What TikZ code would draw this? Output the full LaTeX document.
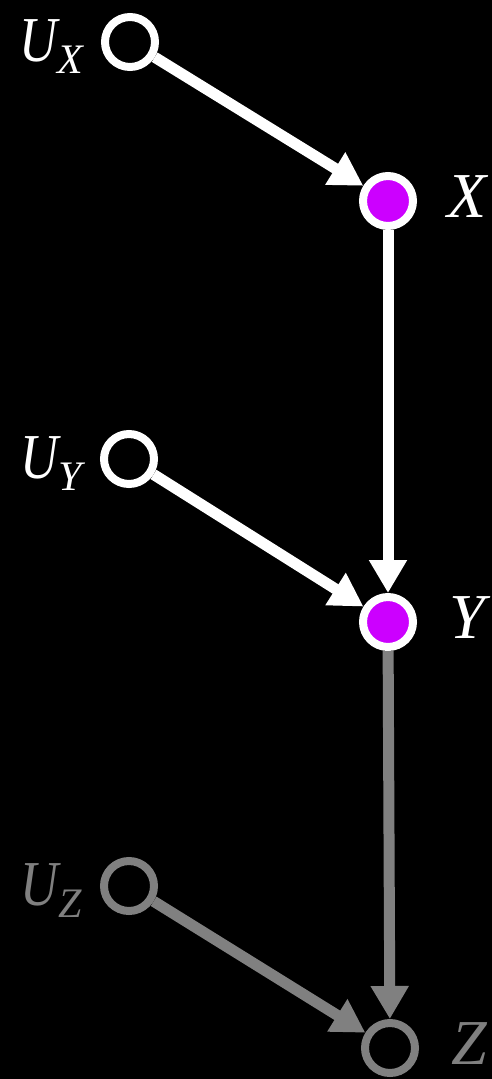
\documentclass[tikz,border=0pt]{standalone}
\usepackage{fontspec}
\setmainfont{Liberation Serif}
\usetikzlibrary{arrows.meta,positioning}
\definecolor{obsfill}{HTML}{CC00FF}
\definecolor{fadegray}{HTML}{808080}
\newcommand\lowidx[1]{\raisebox{-12pt}{\fontsize{42}{44}\selectfont #1}}
\newcommand\noiseU{\scalebox{0.82}[1]{U}}

\begin{document}
\begin{tikzpicture}[x=1pt, y=-1pt,
  var/.style={circle, draw=white, line width=8pt, minimum size=50pt, inner sep=0pt},
  obs/.style={var, fill=obsfill},
  lbl/.style={inner sep=0pt, font=\fontsize{64}{70}\selectfont\itshape, text=white},
  arrow/.style={-{Triangle[length=33pt, width=36pt]}, line width=11pt, draw=white}
]
\fill[black] (0,0) rectangle (492,1079);
% exogenous noise terms and variables
\node[var] (ux) at (130,42) {};
\node[obs] (x) at (388,201) {};
\node[var] (uy) at (129,459) {};
\node[obs] (y) at (388,622) {};
\node[var, draw=fadegray] (uz) at (129,886) {};
\node[var, draw=fadegray] (z) at (390,1048) {};
% labels
\node[lbl, left=18pt of ux, yshift=-5pt] (ux-l) {\noiseU\lowidx{X}};
\node[lbl, right=30pt of x, yshift=4pt] (x-l) {X};
\node[lbl, left=18pt of uy, yshift=-5pt] (uy-l) {\noiseU\lowidx{Y}};
\node[lbl, right=32pt of y, yshift=4pt] (y-l) {Y};
\node[lbl, text=fadegray, left=18pt of uz, yshift=-5pt] (uz-l) {\noiseU\lowidx{Z}};
\node[lbl, text=fadegray, right=32pt of z, yshift=4pt] (z-l) {Z};
% edges
\draw[arrow] (ux) -- (x);
\draw[arrow] (x) -- (y);
\draw[arrow] (uy) -- (y);
\draw[arrow, draw=fadegray] (y) -- (z);
\draw[arrow, draw=fadegray] (uz) -- (z);
\end{tikzpicture}
\end{document}
